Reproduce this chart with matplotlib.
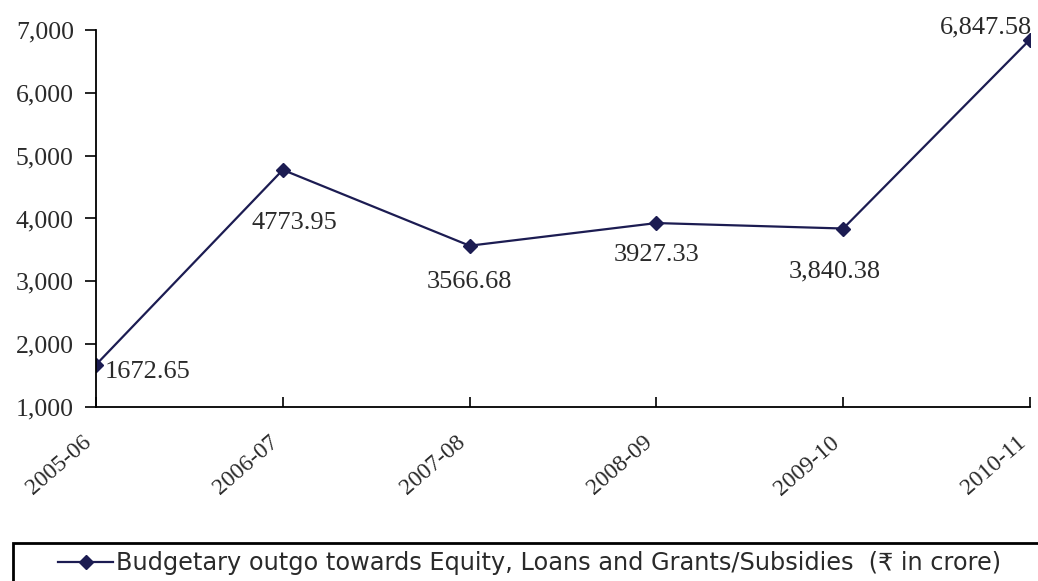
import matplotlib.pyplot as plt
from matplotlib.patches import Rectangle
from matplotlib.ticker import FuncFormatter
from matplotlib.transforms import ScaledTranslation

# Budgetary outgo per year (Rs crore)
years = ['2005-06', '2006-07', '2007-08', '2008-09', '2009-10', '2010-11']
outgo = [1672.65, 4773.95, 3566.68, 3927.33, 3840.38, 6847.58]
point_labels = ['1672.65', '4773.95', '3566.68', '3927.33', '3,840.38', '6,847.58']
series_name = 'Budgetary outgo towards Equity, Loans and Grants/Subsidies  (\u20b9 in crore)'

serif = ['Liberation Serif', 'DejaVu Serif']
line_col = '#1c1c52'
text_col = '#2a2a2a'

fig = plt.figure(figsize=(10.38, 5.81), dpi=100)
ax = fig.add_axes([0.0925, 0.2995, 0.8998, 0.6489])

x = list(range(len(years)))
line, = ax.plot(x, outgo, color=line_col, lw=1.6, marker='D', ms=7.5,
                mfc=line_col, mec=line_col, label=series_name)

ax.set_xlim(0, len(years) - 1)
ax.set_ylim(1000, 7000)
ax.set_yticks(range(1000, 7001, 1000))
ax.yaxis.set_major_formatter(FuncFormatter(lambda v, p: f'{int(v):,}'))
ax.set_xticks(x)
ax.set_xticklabels(years, rotation=41, ha='right', rotation_mode='anchor',
                   family=serif, fontsize=17, color=text_col)
for t in ax.get_yticklabels():
    t.set_family(serif)
    t.set_fontsize(18.5)
    t.set_color(text_col)

ax.tick_params(axis='y', direction='out', length=8, width=1.2, pad=8)
ax.tick_params(axis='x', direction='in', length=7, width=1.2, pad=18)
for s in ('top', 'right'):
    ax.spines[s].set_visible(False)
for s in ('left', 'bottom'):
    ax.spines[s].set_linewidth(1.3)

# nudge the slanted year labels a little to the left of their ticks
shift = ScaledTranslation(-10 / 72, 0, fig.dpi_scale_trans)
for t in ax.get_xticklabels():
    t.set_transform(t.get_transform() + shift)

# value labels beside each point (offsets in points)
offsets = [(6.5, -5, 'left'), (8, -38, 'center'), (0, -26, 'center'),
           (0, -23, 'center'), (-6, -31, 'center'), (1.5, 9, 'right')]
for xi, yi, txt, (dx, dy, ha) in zip(x, outgo, point_labels, offsets):
    ax.annotate(txt, (xi, yi), xytext=(dx, dy), textcoords='offset points',
                ha=ha, va='center', family=serif, fontsize=19, color=text_col,
                annotation_clip=False)

# legend box along the bottom edge
fig.patches.append(Rectangle((0.0125, -0.05), 1.05, 0.1154, transform=fig.transFigure,
                             fill=False, ec='black', lw=2))
leg = fig.legend(handles=[line], loc='center left', bbox_to_anchor=(0.0559, 0.031),
                 frameon=False, borderpad=0, borderaxespad=0,
                 handlelength=2.3, handletextpad=0.1,
                 prop={'family': ['DejaVu Sans', 'Noto Sans'], 'size': 17.3})
for t in leg.get_texts():
    t.set_color(text_col)

fig.savefig('out.png', dpi=100)
